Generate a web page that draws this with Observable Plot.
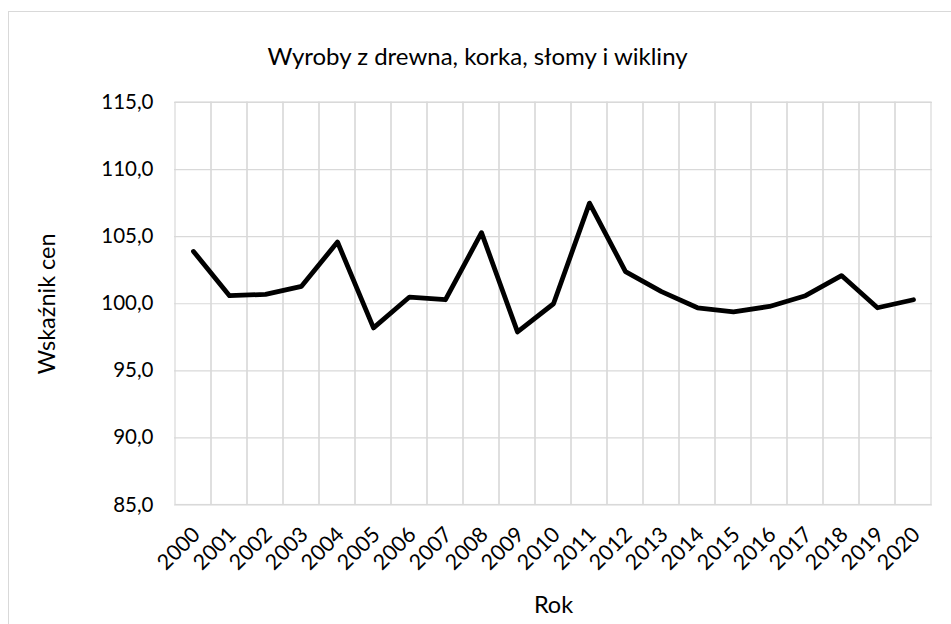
<!DOCTYPE html>
<html>
<head>
<meta charset="utf-8">
<script src="https://cdn.jsdelivr.net/npm/d3@7"></script>
<script src="https://cdn.jsdelivr.net/npm/@observablehq/plot@0.6"></script>
<style>
  html, body { margin: 0; padding: 0; background: #fff; }
  #wrap { position: relative; width: 951px; height: 624px; overflow: hidden; background: #fff; }
  #border { position: absolute; left: 8px; top: 11px; width: 1000px; height: 700px; border: 1px solid #d9d9d9; }
  #chart { position: absolute; left: 0; top: 0; }
</style>
</head>
<body>
<div id="wrap"><div id="border"></div><div id="chart"></div></div>
<script>
const title = "Wyroby z drewna, korka, słomy i wikliny";
const xLabel = "Rok";
const yLabel = "Wskaźnik cen";
const years = ["2000","2001","2002","2003","2004","2005","2006","2007","2008","2009","2010",
               "2011","2012","2013","2014","2015","2016","2017","2018","2019","2020"];
const values = [103.9, 100.6, 100.7, 101.3, 104.6, 98.2, 100.5, 100.3, 105.3, 97.9, 100.0,
                107.5, 102.4, 100.9, 99.7, 99.4, 99.8, 100.6, 102.1, 99.7, 100.3];
const yTicks = [85, 90, 95, 100, 105, 110, 115];

const data = years.map((y, i) => ({year: y, value: values[i]}));
const fmt = d => d.toFixed(1).replace(".", ",");
const grid = "#d9d9d9";

const chart = Plot.plot({
  width: 951,
  height: 624,
  marginLeft: 174,
  marginRight: 19,
  marginTop: 102,
  marginBottom: 119.5,
  style: {fontFamily: "Lato, 'Open Sans', sans-serif", fontSize: "20px", color: "#000", background: "transparent", overflow: "visible"},
  x: {type: "band", domain: years, padding: 0, label: null},
  y: {domain: [85, 115], label: null},
  marks: [
    Plot.ruleY(yTicks, {stroke: grid, strokeWidth: 1.2}),
    Plot.cell(years, {x: d => d, stroke: grid, strokeWidth: 1.2, fill: "none"}),
    Plot.axisY({ticks: yTicks, tickFormat: fmt, tickSize: 0, tickPadding: 21, fontSize: 20.5, fill: "#000"}),
    Plot.axisX({tickRotate: -45, tickSize: 0, tickPadding: 26, dx: 3, fontSize: 21.5, fill: "#000"}),
    Plot.line(data, {x: "year", y: "value", stroke: "#000", strokeWidth: 4.8, strokeLinejoin: "round", strokeLinecap: "round"}),
    Plot.text([title], {frameAnchor: "top", lineAnchor: "middle", dx: -76, dy: -45, fontSize: 24, fill: "#000"}),
    Plot.text([yLabel], {frameAnchor: "left", textAnchor: "middle", lineAnchor: "middle", dx: -127, rotate: -90, fontSize: 23.5, fill: "#000"}),
    Plot.text([xLabel], {frameAnchor: "bottom", textAnchor: "middle", lineAnchor: "middle", dy: 100, fontSize: 23.5, fill: "#000"})
  ]
});
document.getElementById("chart").appendChild(chart);
</script>
</body>
</html>
